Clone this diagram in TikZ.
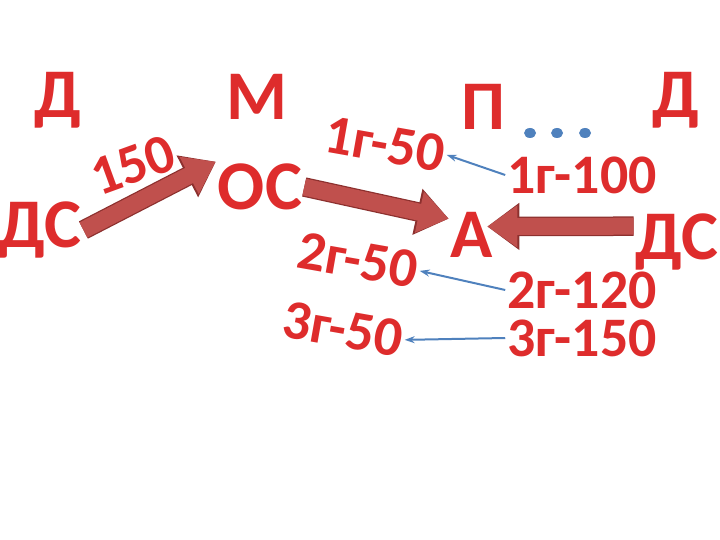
\documentclass[tikz,border=0pt]{standalone}
\usepackage{fontspec}
\setmainfont{Carlito}
\usetikzlibrary{arrows.meta}
\definecolor{txtred}{RGB}{222,44,44}
\definecolor{arrfill}{RGB}{192,80,77}
\definecolor{arredge}{RGB}{140,48,46}
\definecolor{lineblue}{RGB}{79,129,189}

\begin{document}
\begin{tikzpicture}
  [x=1bp,y=-1bp,
   letter/.style={text=txtred,font=\fontsize{70}{70}\selectfont\bfseries,inner sep=2pt},
   amount/.style={text=txtred,font=\fontsize{56}{56}\selectfont\bfseries,inner sep=2pt},
   bigarrow/.style={line width=17bp,draw=arrfill,-{Triangle[length=30bp,width=40bp]},
     preaction={draw=arredge,line width=19.5bp,-{Triangle[length=32bp,width=45bp]}}},
   link/.style={draw=lineblue,line width=2bp,-{Stealth[length=10bp,width=7bp]}}]

  \useasboundingbox (0,0) rectangle (720,540);

  %%%%%%%%%%%%%%%%%%%%%% TOP ROW %%%%%%%%%%%%%%%%%%%%%%
  \node[letter] (d_1) at (58,100)   {Д};
  \node[letter] (m)   at (257,97)   {М};
  \node[letter] (p)   at (483,107)  {П};
  \node[letter] (d_2) at (676,100)  {Д};

  \foreach \x in {530,557,585}
    \fill[lineblue] (\x,133) ellipse (6 and 5);

  %%%%%%%%%%%%%%%%%%%%%% MIDDLE %%%%%%%%%%%%%%%%%%%%%%
  \node[letter] (ds_1) at (40,230)  {ДС};
  \node[amount,rotate=20] (sum) at (133,165) {150};
  \node[letter] (os)   at (260,187) {ОС};
  \node[letter] (a)    at (472,235) {А};
  \node[letter] (ds_2) at (677,242) {ДС};

  %%%%%%%%%%%%%%%%%%%%%% YEARS %%%%%%%%%%%%%%%%%%%%%%
  \node[amount,rotate=-10] (out_1) at (385,144) {1г-50};
  \node[amount,rotate=-10] (out_2) at (358,260) {2г-50};
  \node[amount,rotate=-10] (out_3) at (343,329) {3г-50};

  \node[amount] (in_1) at (582,175) {1г-100};
  \node[amount] (in_2) at (582,290) {2г-120};
  \node[amount] (in_3) at (582,338) {3г-150};

  \draw[bigarrow] (ds_1.east) -- (os.north west);
  \draw[bigarrow] (os.east) -- (a.145);
  \draw[bigarrow, shorten >=-8bp] (ds_2.160) -- (a.20);

  \foreach \fromin/\toout in {in_1/out_1,in_2/out_2,in_3/out_3}
    \draw[link] (\fromin.west) -- (\toout.east);

\end{tikzpicture}
\end{document}
